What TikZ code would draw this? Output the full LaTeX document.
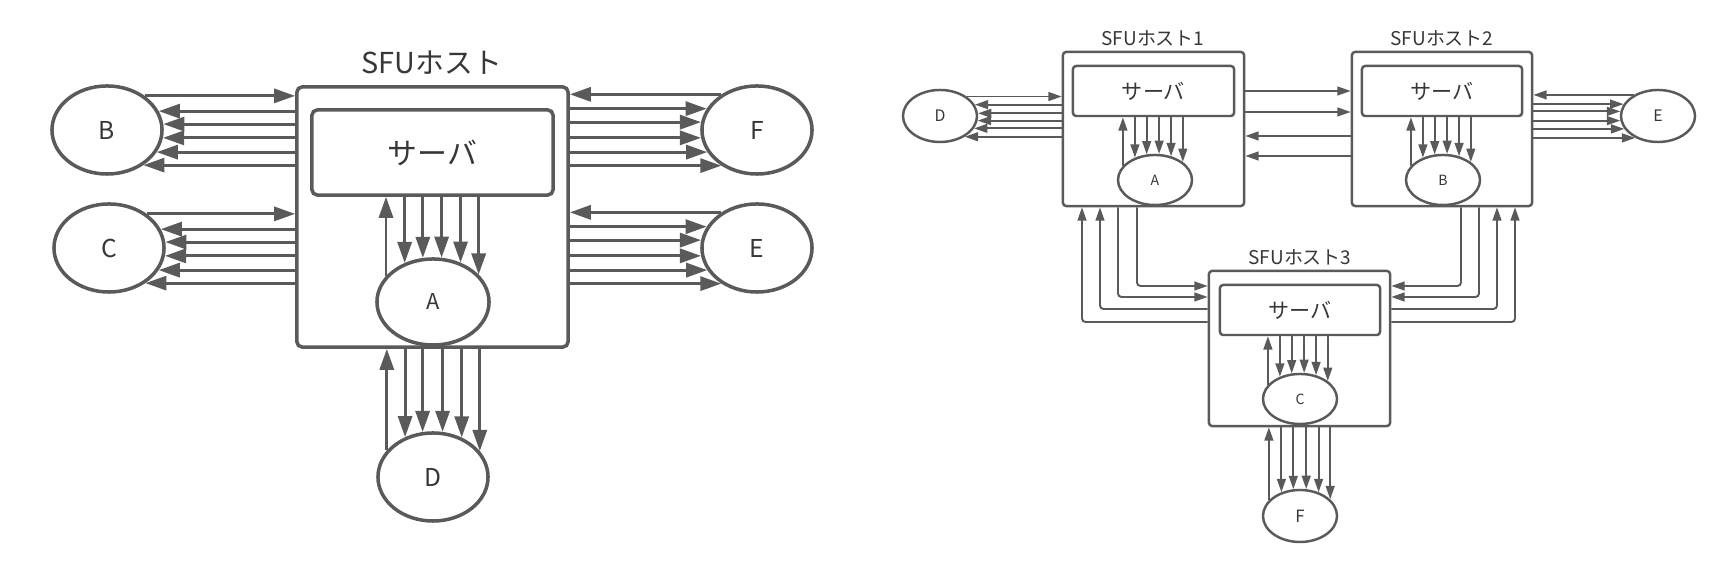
\documentclass[tikz,border=0pt]{standalone}
\usepackage{fontspec}
\setmainfont{Noto Sans CJK JP}
\usetikzlibrary{arrows.meta,shapes.geometric}
\definecolor{dg}{RGB}{90,90,90}
\definecolor{tx}{RGB}{55,55,55}
% boundary angle for a vertical line at offset dx: #1 dx, #2 rx, #3 ry, #4 sign (1 upper, -1 lower)
\newcommand\topang[4]{\pgfmathsetmacro\myang{atan2((#4)*(#3)*sqrt(1-((#1)/(#2))^2),#1)}}
% boundary angle for a horizontal line at offset dy (down positive): #4 sign (1 right side, -1 left side)
\newcommand\sideang[4]{\pgfmathsetmacro\myang{atan2(-(#1),(#4)*(#2)*sqrt(1-((#1)/(#3))^2))}}
\begin{document}
\begin{tikzpicture}[x=0.01cm,y=-0.01cm,
  arL/.style={draw=dg, line width=0.85pt, -{Triangle[length=6pt,width=4pt]}},
  arR/.style={draw=dg, line width=0.55pt, -{Triangle[length=3.8pt,width=2.5pt]}},
  ellL/.style={ellipse, draw=dg, line width=1pt, fill=white, minimum width=1.1cm, minimum height=0.88cm, inner sep=0pt, text=tx, font=\fontsize{7}{8}\selectfont},
  ellR/.style={ellipse, draw=dg, line width=0.7pt, fill=white, minimum width=0.74cm, minimum height=0.5cm, inner sep=0pt, text=tx, font=\fontsize{4}{5}\selectfont},
  boxL/.style={draw=dg, line width=1pt, rounded corners=1.5pt, inner sep=0pt, text=tx},
  boxR/.style={draw=dg, line width=0.7pt, rounded corners=0.9pt, inner sep=0pt, text=tx},
  titL/.style={text=tx, inner sep=0pt, font=\fontsize{8.2}{9}\selectfont},
  titR/.style={text=tx, inner sep=0pt, font=\fontsize{5.4}{6}\selectfont}
]
\useasboundingbox (0,0) rectangle (1730,568);

% ================= left diagram =================
\node[titL] (T) at (432,63) {SFUホスト};
\node[boxL, minimum width=2.71cm, minimum height=2.6cm] (H) at (432.5,217) {};
\node[boxL, minimum width=2.41cm, minimum height=0.85cm, font=\fontsize{8.5}{9}\selectfont] (S) at (432.5,152.5) {サーバ};
\node[ellL, minimum width=1.12cm, minimum height=0.86cm, font=\fontsize{6.2}{7}\selectfont] (A) at (433,302) {A};
\node[ellL] (D) at (433,477) {D};
\node[ellL] (B) at (107,130) {B};
\node[ellL] (C) at (109,248) {C};
\node[ellL] (F) at (757,130) {F};
\node[ellL] (E) at (757,248) {E};

% A <-> server
\topang{-46}{56}{43}{1}\draw[arL] (A.\myang) -- (S.south -| A.\myang);
\foreach \d in {-28,-10,8,26,44}{\topang{\d}{56}{43}{1}\draw[arL] (S.south -| A.\myang) -- (A.\myang);}
% D <-> host
\topang{-45}{55}{44}{1}\draw[arL] (D.\myang) -- (H.south -| D.\myang);
\foreach \d in {-27,-10,9,27,45}{\topang{\d}{55}{44}{1}\draw[arL] (H.south -| D.\myang) -- (D.\myang);}
% B, C <-> host
\foreach \n in {B,C}{
  \sideang{-33}{55}{44}{1}\draw[arL] (\n.\myang) -- (H.west |- \n.\myang);
  \foreach \d in {-19,-6,8,22,34}{\sideang{\d}{55}{44}{1}\draw[arL] (H.west |- \n.\myang) -- (\n.\myang);}
}
% F, E <-> host
\foreach \n in {F,E}{
  \sideang{-34}{55}{44}{-1}\draw[arL] (\n.\myang) -- (H.east |- \n.\myang);
  \foreach \d in {-20,-7,7,21,34}{\sideang{\d}{55}{44}{-1}\draw[arL] (H.east |- \n.\myang) -- (\n.\myang);}
}

% ================= right diagram =================
\node[titR] (T1) at (1153,38) {SFUホスト1};
\node[titR] (T2) at (1442,38) {SFUホスト2};
\node[titR] (T3) at (1300,257) {SFUホスト3};
\node[boxR, minimum width=1.81cm, minimum height=1.54cm] (H1) at (1153.5,129) {};
\node[boxR, minimum width=1.80cm, minimum height=1.54cm] (H2) at (1442,129) {};
\node[boxR, minimum width=1.81cm, minimum height=1.55cm] (H3) at (1299.5,348.5) {};
\node[boxR, minimum width=1.61cm, minimum height=0.5cm, font=\fontsize{6}{7}\selectfont] (S1) at (1153.5,91) {サーバ};
\node[boxR, minimum width=1.60cm, minimum height=0.5cm, font=\fontsize{6}{7}\selectfont] (S2) at (1442,91) {サーバ};
\node[boxR, minimum width=1.60cm, minimum height=0.5cm, font=\fontsize{6}{7}\selectfont] (S3) at (1300,310) {サーバ};
\node[ellR] (rA) at (1155,180) {A};
\node[ellR] (rB) at (1443,180) {B};
\node[ellR] (rC) at (1300,399) {C};
\node[ellR, minimum height=0.52cm, font=\fontsize{4.5}{5}\selectfont] (rD) at (940,116) {D};
\node[ellR, minimum height=0.52cm, font=\fontsize{4.5}{5}\selectfont] (rE) at (1658,116) {E};
\node[ellR, minimum height=0.52cm, font=\fontsize{4.8}{5}\selectfont] (rF) at (1300,516) {F};

% inner client <-> server
\foreach \n/\s in {rA/S1,rB/S2,rC/S3}{
  \topang{-31}{37}{25}{1}\draw[arR] (\n.\myang) -- (\s.south -| \n.\myang);
  \foreach \d in {-19.5,-8,3.5,15,26.5}{\topang{\d}{37}{25}{1}\draw[arR] (\s.south -| \n.\myang) -- (\n.\myang);}
}
% F <-> host3
\topang{-30}{37}{26}{1}\draw[arR] (rF.\myang) -- (H3.south -| rF.\myang);
\foreach \d in {-18,-6.5,5.5,17.5,29}{\topang{\d}{37}{26}{1}\draw[arR] (H3.south -| rF.\myang) -- (rF.\myang);}
% D <-> host1
\sideang{-19}{37}{26}{1}\draw[arR] (rD.\myang) -- (H1.west |- rD.\myang);
\foreach \d in {-11,-3,5,12,20}{\sideang{\d}{37}{26}{1}\draw[arR] (H1.west |- rD.\myang) -- (rD.\myang);}
% E <-> host2
\sideang{-20}{37}{26}{-1}\draw[arR] (rE.\myang) -- (H2.east |- rE.\myang);
\foreach \d in {-11,-4,4,12,21}{\sideang{\d}{37}{26}{-1}\draw[arR] (H2.east |- rE.\myang) -- (rE.\myang);}

% host1 <-> host2
\draw[arR] (H1.east |- S1.center) -- (H2.west |- S1.center);
\draw[arR] (H1.east |- 0,112) -- (H2.west |- 0,112);
\draw[arR] (H2.west |- 0,136) -- (H1.east |- 0,136);
\draw[arR] (H2.west |- 0,156) -- (H1.east |- 0,156);

% host1 <-> host3
\draw[arR, rounded corners=1pt] (H1.south -| 1137,0) |- (H3.west |- 0,286);
\draw[arR, rounded corners=1pt] (H1.south -| 1118,0) |- (H3.west |- 0,297);
\draw[arR, rounded corners=1pt] (H3.west |- 0,309) -| (H1.south -| 1100,0);
\draw[arR, rounded corners=1pt] (H3.west |- 0,322) -| (H1.south -| 1082,0);
% host2 <-> host3
\draw[arR, rounded corners=1pt] (H2.south -| 1461,0) |- (H3.east |- 0,286);
\draw[arR, rounded corners=1pt] (H2.south -| 1479,0) |- (H3.east |- 0,297);
\draw[arR, rounded corners=1pt] (H3.east |- 0,309) -| (H2.south -| 1497,0);
\draw[arR, rounded corners=1pt] (H3.east |- 0,322) -| (H2.south -| 1515,0);
\end{tikzpicture}
\end{document}
